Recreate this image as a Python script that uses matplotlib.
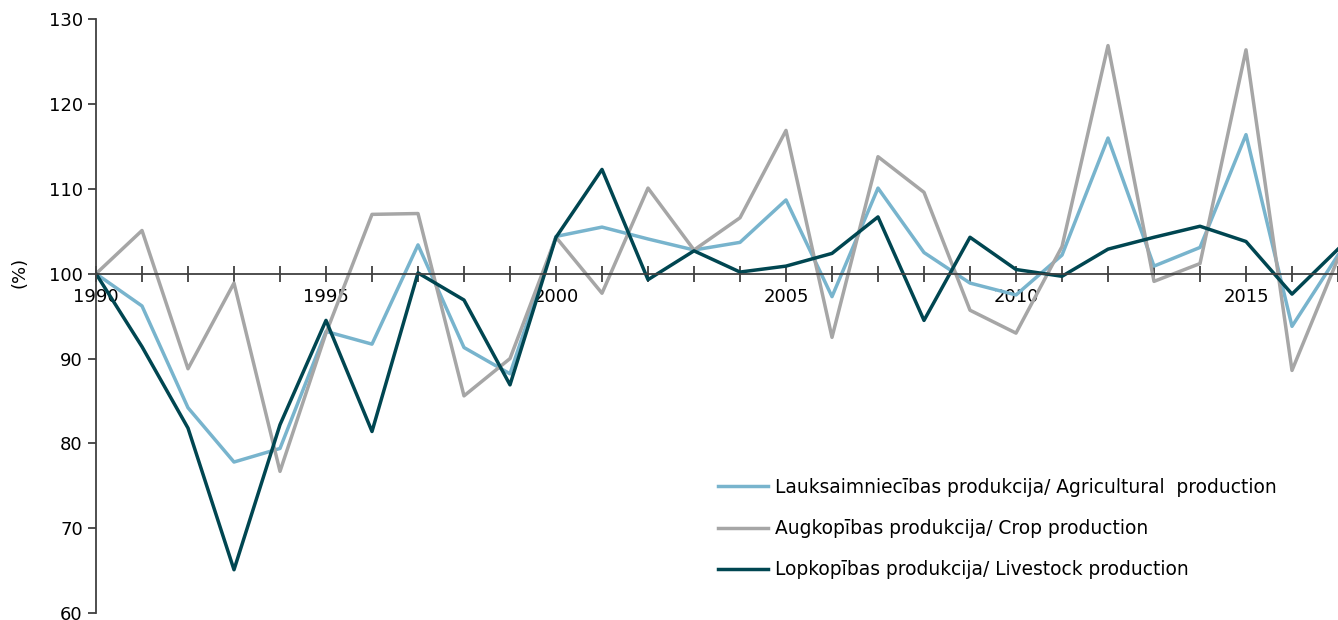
import numpy as np
import matplotlib
matplotlib.use('Agg')
import matplotlib.pyplot as plt

years = np.arange(1990, 2018)

# Indeksi, iepriekšējais gads = 100
lauksaimnieciba = [100, 96.2, 84.2, 77.8, 79.4, 93.2, 91.7, 103.4, 91.3, 88.2,
                   104.4, 105.5, 104.1, 102.8, 103.7, 108.7, 97.3, 110.1, 102.5, 98.9,
                   97.5, 102.2, 116.0, 100.9, 103.1, 116.4, 93.8, 102.2]
augkopiba = [100, 105.1, 88.8, 98.9, 76.7, 93.0, 107.0, 107.1, 85.6, 90.0,
             104.3, 97.7, 110.1, 102.8, 106.6, 116.9, 92.5, 113.8, 109.6, 95.7,
             93.0, 103.2, 126.9, 99.1, 101.2, 126.4, 88.6, 101.8]
lopkopiba = [100, 91.4, 81.8, 65.1, 82.2, 94.5, 81.4, 100.1, 96.9, 86.9,
             104.3, 112.3, 99.3, 102.7, 100.2, 100.9, 102.4, 106.7, 94.5, 104.3,
             100.5, 99.7, 102.9, 104.3, 105.6, 103.8, 97.6, 102.9]

labels = ['Lauksaimniecības produkcija/ Agricultural  production',
          'Augkopības produkcija/ Crop production',
          'Lopkopības produkcija/ Livestock production']

fig = plt.figure(figsize=(13.38, 6.2), dpi=100)
ax = fig.add_axes([96 / 1338, 1 - 613 / 620, 1 - 96 / 1338, (613 - 19.3) / 620])

ax.plot(years, lauksaimnieciba, color='#78B4CD', lw=2.5, label=labels[0])
ax.plot(years, augkopiba, color='#A6A6A6', lw=2.5, label=labels[1])
ax.plot(years, lopkopiba, color='#004651', lw=2.5, label=labels[2])

ax.set_xlim(1990, 2017)
ax.set_ylim(60, 130)
ax.set_yticks(np.arange(60, 131, 10))
ax.set_xticks(years)
ax.set_xticklabels([str(y) if y % 5 == 0 else '' for y in years])

for s in ['top', 'right']:
    ax.spines[s].set_visible(False)
ax.spines['bottom'].set_position(('data', 100))
ax.spines['bottom'].set_color('#404040')
ax.spines['left'].set_color('#404040')
ax.spines['bottom'].set_linewidth(1.3)
ax.spines['left'].set_linewidth(1.3)
ax.tick_params(axis='x', direction='inout', length=12, width=1.3, color='#404040',
               labelsize=13, pad=4)
ax.tick_params(axis='y', direction='out', length=6, width=1.3, color='#404040',
               labelsize=13)
ax.set_ylabel('(%)', fontsize=13)
ax.yaxis.set_label_coords(-0.054, 0.573)

ax.legend(loc='upper left', bbox_to_anchor=(701 / 1338, 1 - 461 / 620),
          bbox_transform=fig.transFigure, frameon=False, fontsize=13.4,
          handlelength=2.7, handletextpad=0.38, labelspacing=1.2)

fig.savefig('out.png', dpi=100)
